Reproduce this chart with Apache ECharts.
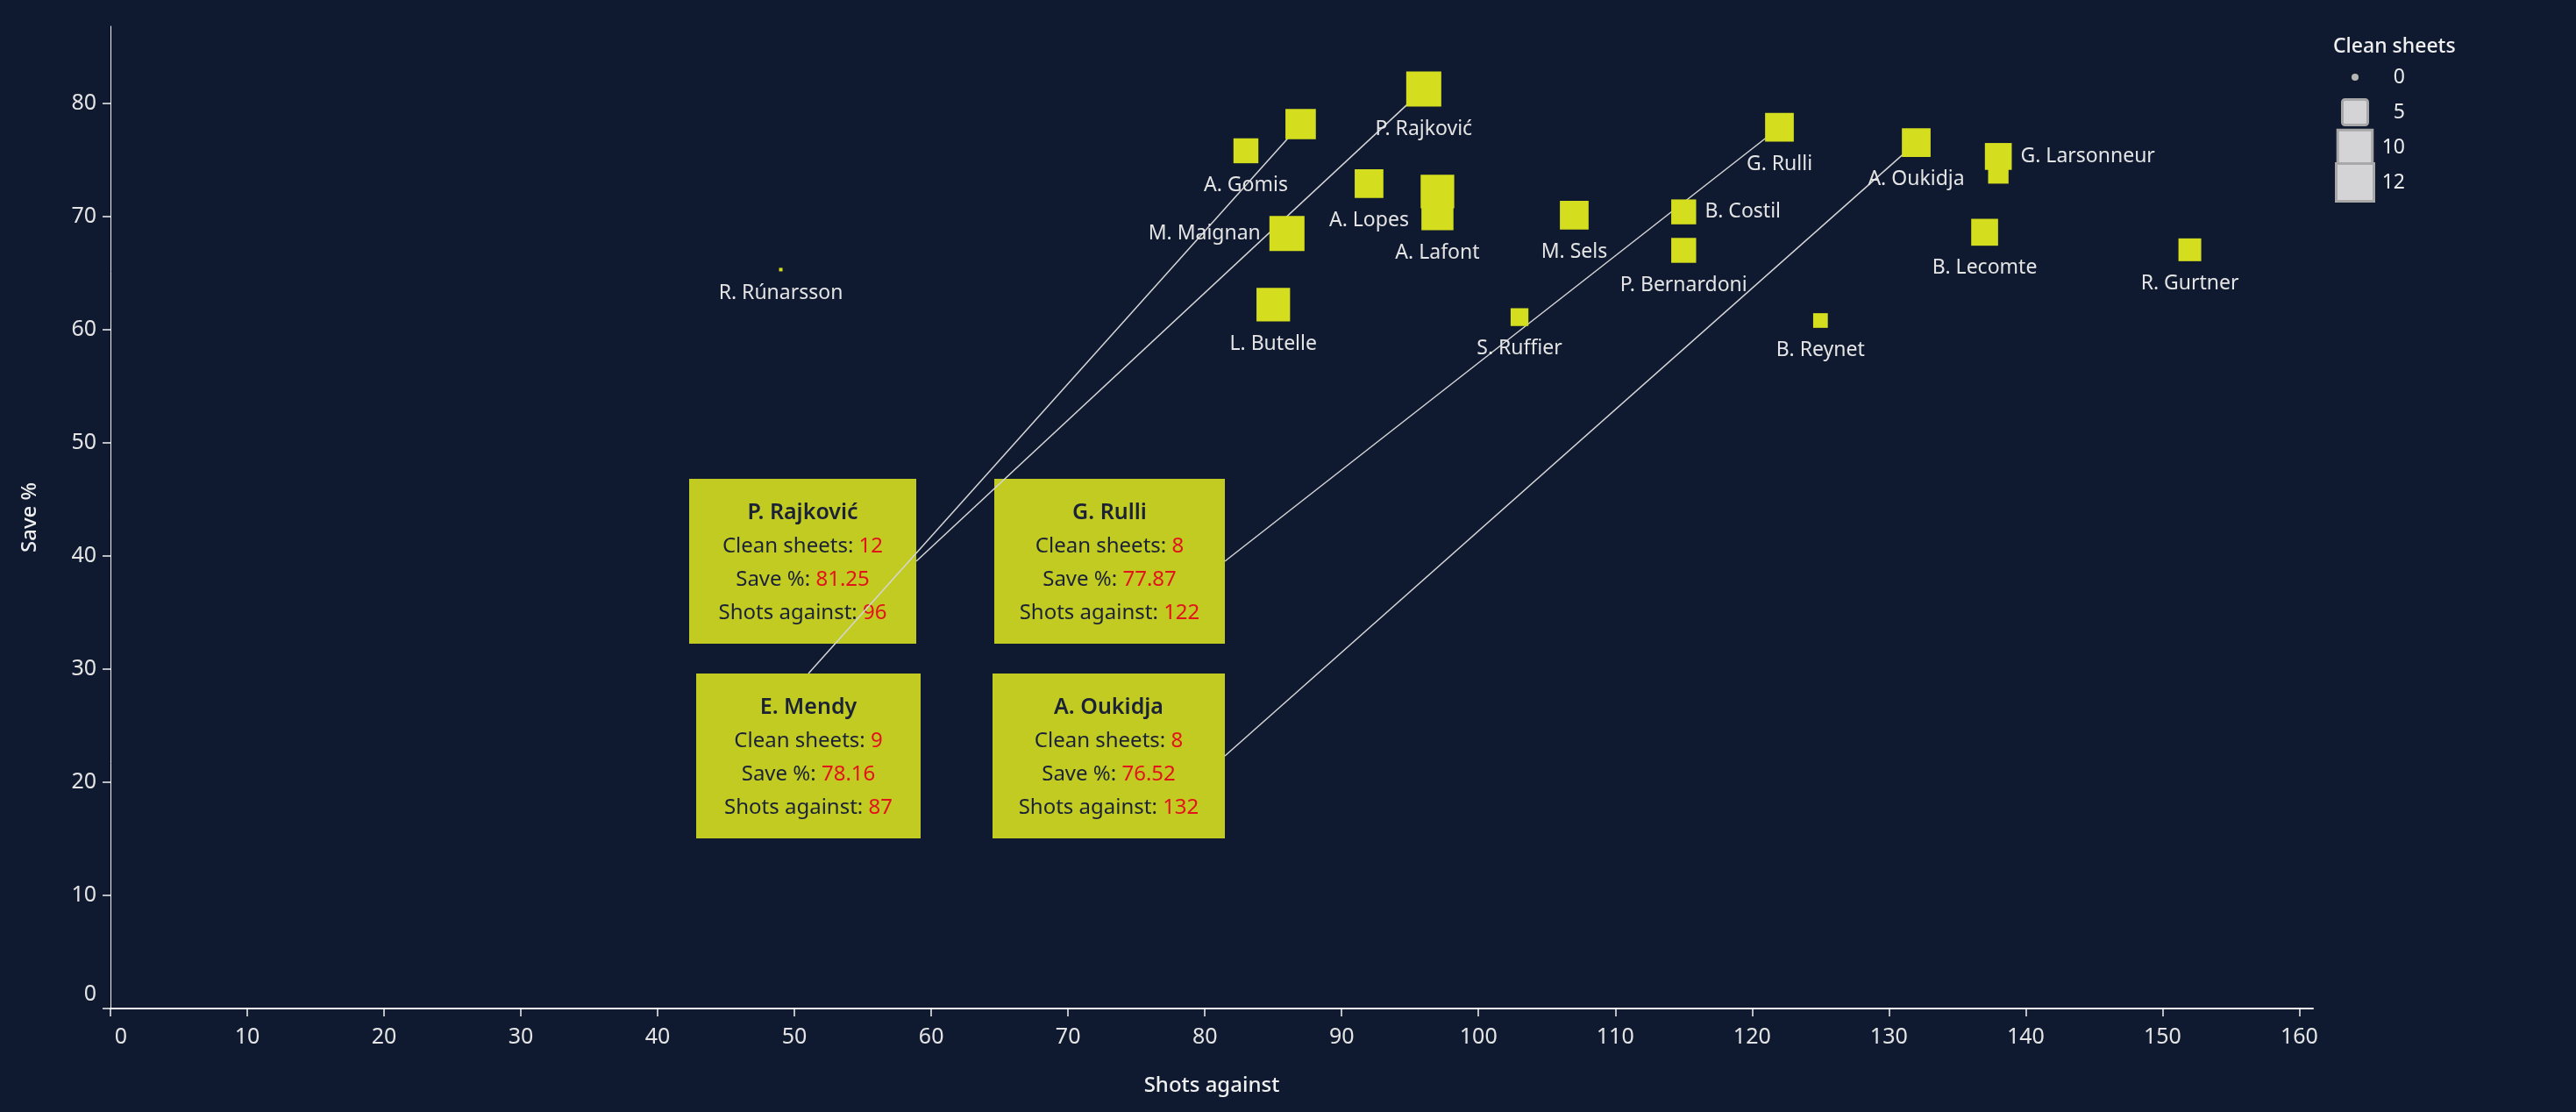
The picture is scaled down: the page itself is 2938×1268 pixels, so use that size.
<!DOCTYPE html>
<html><head><meta charset="utf-8">
<script src="https://cdn.jsdelivr.net/npm/echarts@6/dist/echarts.min.js"></script>
<style>html,body{margin:0;padding:0;background:#0f1a31;}#c{width:2938px;height:1268px;}</style>
</head><body><div id="c"></div>
<script>
// ---- data ----
const players = ['R. Rúnarsson','A. Gomis','E. Mendy','M. Maignan','L. Butelle','A. Lopes','P. Rajković','A. Lafont','','S. Ruffier','M. Sels','B. Costil','P. Bernardoni','G. Rulli','B. Reynet','A. Oukidja','B. Lecomte','','G. Larsonneur','R. Gurtner'];
const shotsAgainst = [49, 83, 87, 86, 85, 92, 96, 97, 97, 103, 107, 115, 115, 122, 125, 132, 137, 138, 138, 152];
const savePct = [65.3, 75.8, 78.16, 68.5, 62.2, 72.9, 81.25, 70.2, 72.2, 61.1, 70.1, 70.4, 67.0, 77.87, 60.8, 76.52, 68.6, 73.8, 75.3, 67.05];
const cleanSheets = [0, 6, 9, 12, 11, 8, 12, 10, 11, 3, 8, 6, 6, 8, 2, 8, 7, 4, 7, 5];
const xTicks = [0,10,20,30,40,50,60,70,80,90,100,110,120,130,140,150,160];
const yTicks = [0,10,20,30,40,50,60,70,80];
const legendValues = [0, 5, 10, 12];
const annotatedPlayers = ['P. Rajković','G. Rulli','E. Mendy','A. Oukidja'];

// ---- layout / style ----
const BG = '#0f1a31', MARK = '#d4de1e', BOX = '#c1cb22', TXT = '#e4e4e4', NAVY = '#1b2236', RED = '#e3131b';
const FONT = '"Noto Sans", sans-serif';
const labelSide = {'M. Maignan':'left','B. Costil':'right','G. Larsonneur':'right'};
const hiddenLabel = {'E. Mendy':true};
// annotation boxes in pixels: [left, top, width, height, anchor side]
const boxLayout = {
  'P. Rajković': [786, 546, 259, 188, 'right'],
  'G. Rulli':    [1134, 546, 263, 188, 'right'],
  'E. Mendy':    [794, 768, 256, 188, 'top'],
  'A. Oukidja':  [1132, 768, 265, 188, 'right']
};
const sizeOf = cs => Math.sqrt(16 + 132 * cs);

const chart = echarts.init(document.getElementById('c'), null, {renderer:'canvas'});

const seriesData = players.map((n, i) => {
  const side = labelSide[n] || 'bottom';
  return {
    name: n,
    value: [shotsAgainst[i], savePct[i], cleanSheets[i]],
    label: {show: !!n && !hiddenLabel[n], position: side, distance: side === 'bottom' ? 14 : 10}
  };
});

chart.setOption({
  backgroundColor: BG,
  animation: false,
  textStyle: {fontFamily: FONT},
  grid: {left: 126, right: 300, top: 30, bottom: 118, containLabel: false},
  xAxis: {
    type: 'value', min: 0, max: 161, interval: 10,
    name: 'Shots against', nameLocation: 'middle', nameGap: 76,
    nameTextStyle: {color: '#f0f0f0', fontSize: 24, fontWeight: 500, fontFamily: FONT},
    splitLine: {show: false},
    axisLine: {show: true, lineStyle: {color: '#f4f4f4', width: 2}},
    axisTick: {show: true, length: 9, customValues: xTicks, lineStyle: {color: '#f4f4f4', width: 1.5}},
    axisLabel: {
      customValues: xTicks, color: TXT, fontSize: 25, margin: 20, fontFamily: FONT,
      formatter: v => v === 0 ? '{z|0}' : String(v),
      rich: {z: {padding: [0, 0, 0, 24], fontSize: 25, color: TXT, fontFamily: FONT}}
    }
  },
  yAxis: {
    type: 'value', min: 0, max: 86.8, interval: 10,
    name: 'Save %', nameLocation: 'middle', nameGap: 80,
    nameTextStyle: {color: '#f0f0f0', fontSize: 24, fontWeight: 500, fontFamily: FONT},
    splitLine: {show: false},
    axisLine: {show: true, lineStyle: {color: '#f4f4f4', width: 1}},
    axisTick: {show: true, length: 9, customValues: yTicks, lineStyle: {color: '#f4f4f4', width: 1.5}},
    axisLabel: {
      customValues: yTicks, color: TXT, fontSize: 25, margin: 16, fontFamily: FONT,
      formatter: v => v === 0 ? '{z|0}' : String(v),
      rich: {z: {padding: [0, 0, 32, 0], fontSize: 25, color: TXT, fontFamily: FONT}}
    }
  },
  series: [{
    type: 'scatter',
    z: 10,
    symbol: 'rect',
    symbolSize: v => sizeOf(v[2]),
    itemStyle: {color: MARK, opacity: 1},
    label: {show: true, formatter: p => p.name, color: TXT, fontSize: 23, fontFamily: FONT},
    labelLayout: {hideOverlap: false},
    emphasis: {disabled: true},
    data: seriesData
  }]
});

// ---- annotations & legend (graphics) ----
const graphics = [];
annotatedPlayers.forEach(n => {
  const i = players.indexOf(n);
  const [bx, by, bw, bh, side] = boxLayout[n];
  const pt = chart.convertToPixel({xAxisIndex: 0, yAxisIndex: 0}, [shotsAgainst[i], savePct[i]]);
  const anchor = side === 'top' ? [bx + bw / 2, by] : [bx + bw, by + bh / 2];
  graphics.push({type: 'rect', z: 1, shape: {x: bx, y: by, width: bw, height: bh}, style: {fill: BOX}});
  graphics.push({
    type: 'text', z: 2,
    x: bx + bw / 2, y: by + bh / 2 + 2,
    style: {
      text: '{t|' + n + '}\n{l|Clean sheets: }{v|' + cleanSheets[i] + '}\n{l|Save %: }{v|' + savePct[i].toFixed(2) + '}\n{l|Shots against: }{v|' + shotsAgainst[i] + '}',
      align: 'center', verticalAlign: 'middle', fontFamily: FONT,
      rich: {
        t: {fontSize: 25, fontWeight: 600, fill: NAVY, lineHeight: 38, fontFamily: FONT},
        l: {fontSize: 24, fill: NAVY, lineHeight: 38, fontFamily: FONT},
        v: {fontSize: 24, fill: RED, lineHeight: 38, fontFamily: FONT}
      }
    }
  });
  graphics.push({type: 'line', z: 3, shape: {x1: anchor[0], y1: anchor[1], x2: pt[0], y2: pt[1]},
    style: {stroke: '#d6d6d6', lineWidth: 1.5}});
});

// size legend
graphics.push({type: 'text', z: 5, x: 2661, y: 53,
  style: {text: 'Clean sheets', fill: '#f0f0f0', fontSize: 23, fontWeight: 500, fontFamily: FONT, align: 'left', verticalAlign: 'middle'}});
legendValues.forEach((v, k) => {
  const cy = 88 + k * 40, cx = 2686;
  if (v === 0) {
    graphics.push({type: 'circle', z: 5, shape: {cx: cx, cy: cy, r: 4}, style: {fill: '#b5b5b5'}});
  } else {
    const s = sizeOf(v) + 3;
    graphics.push({type: 'rect', z: 5, shape: {x: cx - s / 2, y: cy - s / 2, width: s, height: s, r: v === 5 ? 3 : 0},
      style: {fill: '#d4d4d6', stroke: '#a8a8a8', lineWidth: 3}});
  }
  graphics.push({type: 'text', z: 5, x: 2743, y: cy,
    style: {text: String(v), fill: '#ececec', fontSize: 23, fontFamily: FONT, align: 'right', verticalAlign: 'middle'}});
});

chart.setOption({graphic: graphics});
</script>
</body></html>
